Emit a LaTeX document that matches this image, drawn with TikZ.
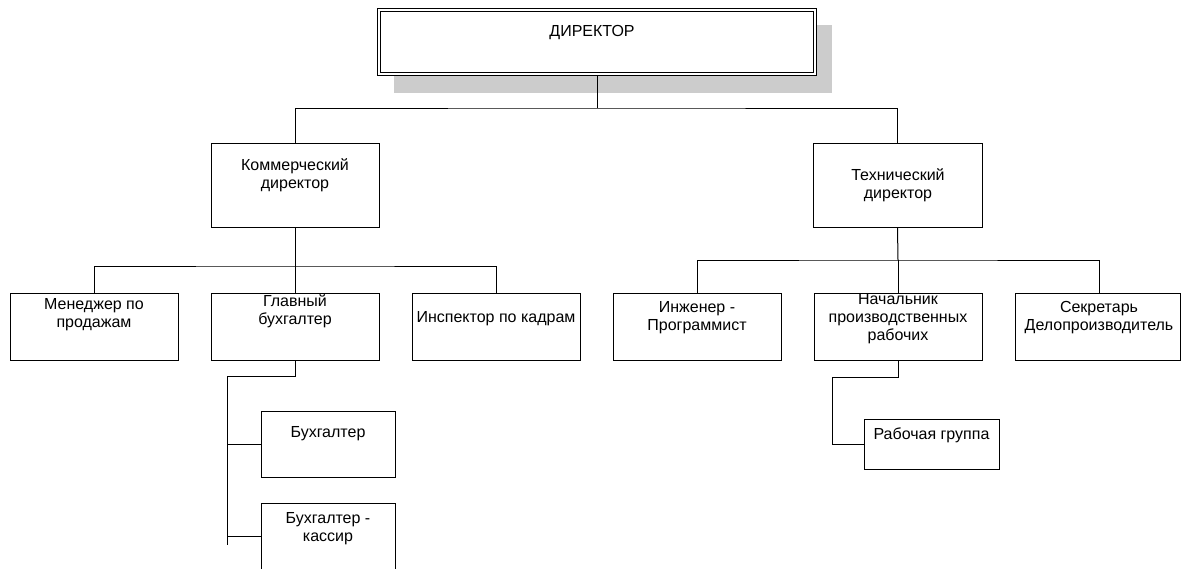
\documentclass[tikz,border=0pt]{standalone}
\usepackage{fontspec}
\setmainfont{Liberation Sans}
\begin{document}
\begin{tikzpicture}[x=1pt,y=-1pt,
  box/.style={draw=black,line width=1pt,fill=white,inner sep=0pt},
  txt/.style={font=\fontsize{16}{18}\selectfont,align=center,inner sep=0pt},
  conn/.style={draw=black,line width=1pt}]
\clip (0,0) rectangle (1181,568);
\fill[white] (0,0) rectangle (1181,568);
% shadow of director
\fill[black!20] (394,25) rectangle (832,93);
% boxes
\node[box,minimum width=439pt,minimum height=67pt] (dir) at (597,42) {};
\draw[line width=1pt] ([shift={(3.5,3.5)}]dir.north west) rectangle ([shift={(-3.5,-3.5)}]dir.south east);
\node[box,minimum width=168pt,minimum height=84pt] (kd) at (295,185) {};
\node[box,minimum width=169pt,minimum height=84pt] (td) at (897.5,185) {};
\node[box,minimum width=168pt,minimum height=67pt] (mp) at (94,326.5) {};
\node[box,minimum width=168pt,minimum height=67pt] (gb) at (295,326.5) {};
\node[box,minimum width=168pt,minimum height=67pt] (ik) at (496,326.5) {};
\node[box,minimum width=168pt,minimum height=67pt] (ip) at (697,326.5) {};
\node[box,minimum width=168pt,minimum height=67pt] (np) at (898,326.5) {};
\node[box,minimum width=165pt,minimum height=67pt] (sd) at (1097.5,326.5) {};
\node[box,minimum width=134pt,minimum height=66pt] (bh) at (328,444) {};
\node[box,minimum width=134pt,minimum height=67pt] (bk) at (328,536.5) {};
\node[box,minimum width=135pt,minimum height=50pt] (rg) at (931.5,444) {};
% texts
\node[txt] (tdir) at (592,33) {ДИРЕКТОР};
\node[txt] (tkd) at (295,175) {Коммерческий\\директор};
\node[txt] (ttd) at (898,185) {Технический\\директор};
\node[txt] (tmp) at (94,315) {Менеджер по\\продажам};
\node[txt] (tgb) at (295,311) {Главный\\бухгалтер};
\node[txt] (tik) at (496,319) {Инспектор по кадрам};
\node[txt] (tip) at (697,318) {Инженер -\\Программист};
\node[txt] (tnp) at (898,318.5) {Начальник\\производственных\\рабочих};
\node[txt] (tsd) at (1099,318) {Секретарь\\Делопроизводитель};
\node[txt] (tbh) at (328,434) {Бухгалтер};
\node[txt] (tbk) at (328,529) {Бухгалтер -\\кассир};
\node[txt] (trg) at (931.5,435) {Рабочая группа};
% junctions
\coordinate (j1) at (597,108);
\coordinate (j2) at (295,266);
\coordinate (j3) at (898,260);
\coordinate (g1) at (295,376);
\coordinate (g2) at (227,376);
\coordinate (g3) at (227,545);
\coordinate (n1) at (898,377);
\coordinate (n2) at (832,377);
% connectors
\draw[conn] (dir.south) -- (j1);
\draw[conn] (kd.north) |- (j1) -| (td.north);
\draw[conn] (kd.south) -- (j2);
\draw[conn] (gb.north) -- (j2);
\draw[conn] (mp.north) |- (j2) -| (ik.north);
\draw[conn] (td.south) -- (j3);
\draw[conn] (np.north) -- (j3);
\draw[conn] (ip.north) |- (j3) -| ([xshift=1.5pt]sd.north);
\draw[conn] (gb.south) -- (g1) -- (g2) -- (g3);
\draw[conn] (g2 |- bh.west) -- (bh.west);
\draw[conn] (g2 |- bk.west) -- (bk.west);
\draw[conn] (np.south) -- (n1) -- (n2) |- (rg.west);
\end{tikzpicture}
\end{document}
